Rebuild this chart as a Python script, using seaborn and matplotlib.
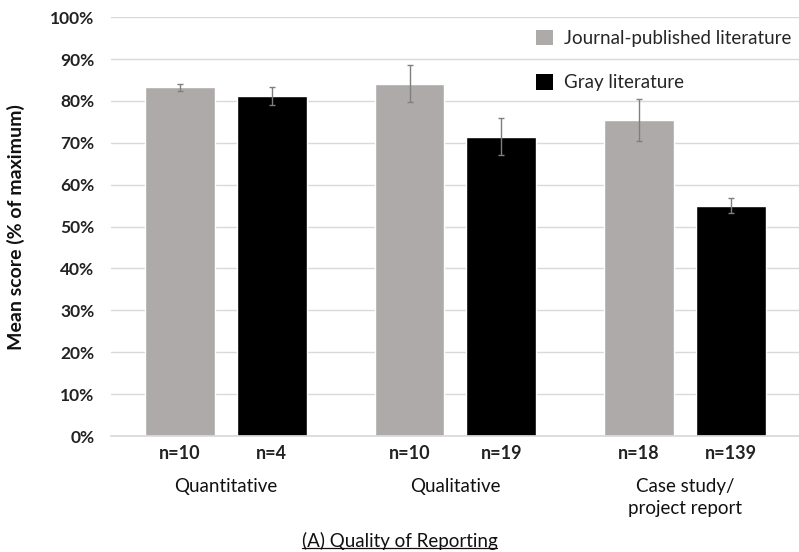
import pandas as pd
import numpy as np
import matplotlib.pyplot as plt
import seaborn as sns
from matplotlib.patches import Patch
from matplotlib.lines import Line2D

# values
categories = ["Quantitative", "Qualitative", "Case study/\nproject report"]
sources = ["Journal-published literature", "Gray literature"]
journal_mean = [83.2, 84.1, 75.5]
gray_mean = [81.1, 71.5, 55.0]
journal_err = [0.9, 4.4, 5.0]
gray_err = [2.1, 4.5, 1.8]
journal_n = ["n=10", "n=10", "n=18"]
gray_n = ["n=4", "n=19", "n=139"]
colors = ["#AEAAAA", "#000000"]


def main():
    df = pd.DataFrame({
        "category": categories * 2,
        "source": [sources[0]] * 3 + [sources[1]] * 3,
        "score": journal_mean + gray_mean,
    })
    errs = [journal_err, gray_err]
    ns = [journal_n, gray_n]

    sns.set_theme(style="white")
    plt.rcParams["font.family"] = ["Lato", "DejaVu Sans"]

    fig = plt.figure(figsize=(7.99, 5.52), dpi=100)
    ax = fig.add_axes([0.139, 0.21, 0.862, 0.759])

    sns.barplot(data=df, x="category", y="score", hue="source",
                palette=colors, width=0.8, gap=0.24, errorbar=None,
                saturation=1, legend=False, ax=ax, zorder=3)

    # error bars + n labels, one container per hue level
    for cont, err, nlab in zip(ax.containers, errs, ns):
        xs = [b.get_x() + b.get_width() / 2 for b in cont]
        hs = [b.get_height() for b in cont]
        ax.errorbar(xs, hs, yerr=err, fmt="none", ecolor="#7f7f7f",
                    elinewidth=1, capsize=2.5, capthick=1, zorder=4)
        for x, lab in zip(xs, nlab):
            ax.text(x, -2.2, lab, ha="center", va="top", fontsize=13,
                    fontweight="bold", color="#222222")

    ax.set_ylim(0, 100)
    ax.set_xlim(-0.5, 2.5)
    ax.set_yticks(np.arange(0, 101, 10))
    ax.set_yticklabels([f"{v}%" for v in range(0, 101, 10)],
                       fontsize=12.5, fontweight="bold", color="#222222")
    ax.tick_params(axis="y", length=0, pad=12)
    ax.tick_params(axis="x", length=0, pad=30)
    ax.set_xticks(range(len(categories)))
    ax.set_xticklabels(categories, fontsize=13.5, color="#111111",
                       linespacing=1.4, va="top")
    ax.set_xlabel("")
    ax.set_ylabel("Mean score (% of maximum)", fontsize=14,
                  fontweight="bold", color="#111111", labelpad=18)

    ax.yaxis.grid(True, color="#d9d9d9", linewidth=1, zorder=0)
    ax.set_axisbelow(True)
    for s in ["left", "right", "top"]:
        ax.spines[s].set_visible(False)
    ax.spines["bottom"].set_color("#d9d9d9")
    ax.spines["bottom"].set_zorder(5)

    handles = [Patch(facecolor=c, edgecolor="none") for c in colors]
    ax.legend(handles, sources, loc="upper right",
              bbox_to_anchor=(1.0, 0.99), frameon=False,
              fontsize=13.5, labelspacing=1.45, handlelength=0.9,
              handleheight=0.9, handletextpad=0.6, borderaxespad=0.05)

    t = fig.text(0.5, 0.004, "(A) Quality of Reporting", ha="center",
                 va="bottom", fontsize=13.5, color="#111111")
    fig.canvas.draw()
    bb = t.get_window_extent().transformed(fig.transFigure.inverted())
    fig.add_artist(Line2D([bb.x0, bb.x1], [bb.y0 + 0.004, bb.y0 + 0.004],
                          color="#111111", linewidth=0.9,
                          transform=fig.transFigure))

    plt.savefig("out.png", dpi=100)


if __name__ == "__main__":
    main()
